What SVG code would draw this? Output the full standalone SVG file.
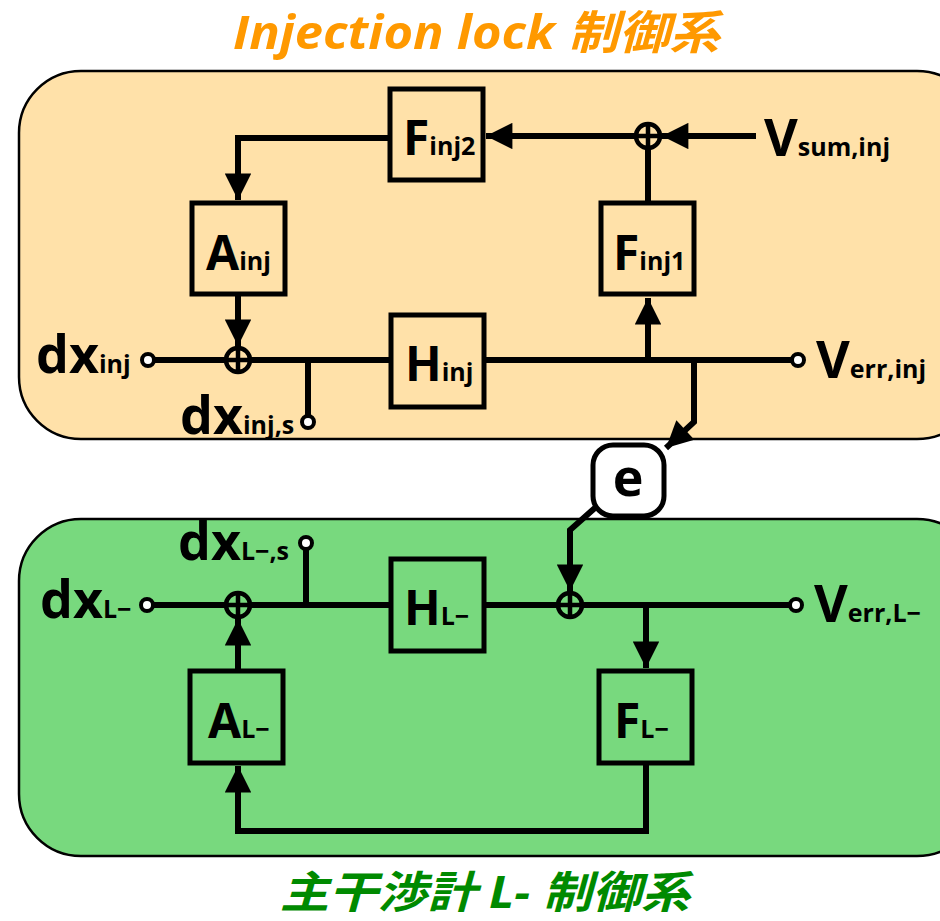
<svg xmlns="http://www.w3.org/2000/svg" width="940" height="921" viewBox="0 0 940 921">
<style>
.box{fill:none;stroke:#000;stroke-width:5}
.ln{fill:none;stroke:#000;stroke-width:6}
.sum{fill:none;stroke:#000;stroke-width:4.5}
.term{fill:#fff;stroke:#000;stroke-width:4}
.lbl{font-family:"Open Sans","DejaVu Sans",sans-serif;font-weight:bold;fill:#000}
.big{font-size:52px}
.bl{font-size:48px}
.sub{font-size:25px}
.title{font-family:"Open Sans","Noto Sans CJK JP",sans-serif;font-weight:bold;font-style:italic}
</style>
<defs>
<marker id="ah" viewBox="0 0 10 10" refX="10" refY="5" markerWidth="4.6" markerHeight="4.4" orient="auto" markerUnits="strokeWidth">
<path d="M0,0 L10,5 L0,10 Z" fill="#000"/>
</marker>
</defs>
<rect x="0" y="0" width="940" height="921" fill="#fff"/>
<text class="title" x="233" y="49" font-size="46" textLength="487" lengthAdjust="spacingAndGlyphs" fill="#ff9900">Injection lock 制御系</text>
<rect x="19" y="71" width="960" height="368" rx="62" ry="62" fill="#ffe1a9" stroke="#000" stroke-width="2.5"/>
<rect x="19" y="519" width="960" height="337" rx="62" ry="62" fill="#78d97e" stroke="#000" stroke-width="2.5"/>
<text class="title" x="280" y="908" font-size="44" textLength="410" lengthAdjust="spacingAndGlyphs" fill="#008a00">主干渉計 L- 制御系</text>

<g id="connectors">
<!-- top -->
<path class="ln" d="M154,360 H226"/>
<path class="ln" d="M250,360 H390"/>
<path class="ln" d="M484,360 H791"/>
<path class="ln" d="M308,360 V416"/>
<path class="ln" d="M238,296 V346" marker-end="url(#ah)"/>
<path class="ln" d="M648,360 V298" marker-end="url(#ah)"/>
<path class="ln" d="M648,202 V148"/>
<path class="ln" d="M756,136 H662" marker-end="url(#ah)"/>
<path class="ln" d="M636,136 H486" marker-end="url(#ah)"/>
<path class="ln" d="M390,138 H238 V200" marker-end="url(#ah)"/>
<path class="ln" d="M694,360 V422 L666,448" marker-end="url(#ah)"/>
<!-- bottom -->
<path class="ln" d="M596,507 L570,530 V591" marker-end="url(#ah)"/>
<path class="ln" d="M153,605 H226"/>
<path class="ln" d="M250,605 H390"/>
<path class="ln" d="M484,605 H558"/>
<path class="ln" d="M582,605 H789"/>
<path class="ln" d="M306,605 V549"/>
<path class="ln" d="M646,605 V668" marker-end="url(#ah)"/>
<path class="ln" d="M238,670 V619" marker-end="url(#ah)"/>
<path class="ln" d="M646,764 V831 H238 V766" marker-end="url(#ah)"/>
</g>

<g id="sum_top_left"><circle class="sum" cx="238" cy="360" r="12"/><path class="sum" d="M238,348 V372 M226,360 H250"/></g>
<g id="sum_top_right"><circle class="sum" cx="648" cy="136" r="12"/><path class="sum" d="M648,124 V148 M636,136 H660"/></g>
<g id="sum_bot_left"><circle class="sum" cx="238" cy="605" r="12"/><path class="sum" d="M238,593 V617 M226,605 H250"/></g>
<g id="sum_bot_right"><circle class="sum" cx="570" cy="605" r="12"/><path class="sum" d="M570,593 V617 M558,605 H582"/></g>

<g id="F_inj2"><rect class="box" x="390" y="89" width="93" height="91"/>
<text class="lbl" x="403" y="155"><tspan class="bl">F</tspan><tspan class="sub">inj2</tspan></text></g>
<g id="A_inj"><rect class="box" x="192" y="203" width="93" height="91"/>
<text class="lbl" x="206" y="270"><tspan class="bl">A</tspan><tspan class="sub">inj</tspan></text></g>
<g id="F_inj1"><rect class="box" x="601" y="203" width="93" height="91"/>
<text class="lbl" x="613" y="270"><tspan class="bl">F</tspan><tspan class="sub">inj1</tspan></text></g>
<g id="H_inj"><rect class="box" x="391" y="315" width="93" height="92"/>
<text class="lbl" x="405" y="381"><tspan class="bl">H</tspan><tspan class="sub">inj</tspan></text></g>

<g id="H_L"><rect class="box" x="391" y="559" width="93" height="92"/>
<text class="lbl" x="404" y="625"><tspan class="bl">H</tspan><tspan class="sub">L−</tspan></text></g>
<g id="A_L"><rect class="box" x="190" y="671" width="93" height="92"/>
<text class="lbl" x="208" y="738"><tspan class="bl">A</tspan><tspan class="sub">L−</tspan></text></g>
<g id="F_L"><rect class="box" x="599" y="671" width="93" height="92"/>
<text class="lbl" x="614" y="738"><tspan class="bl">F</tspan><tspan class="sub">L−</tspan></text></g>

<g id="e"><rect x="593" y="445" width="71" height="71" rx="20" ry="20" fill="#fff" stroke="#000" stroke-width="5"/>
<text class="lbl" x="628" y="496" font-size="52" text-anchor="middle">e</text></g>

<g id="dx_inj"><circle class="term" cx="148" cy="360" r="6"/>
<text class="lbl" x="36" y="373"><tspan class="big">dx</tspan><tspan class="sub">inj</tspan></text></g>
<g id="dx_inj_s"><circle class="term" cx="308" cy="422" r="6"/>
<text class="lbl" x="180" y="434"><tspan class="big">dx</tspan><tspan class="sub">inj,s</tspan></text></g>
<g id="V_err_inj"><circle class="term" cx="798" cy="360" r="6"/>
<text class="lbl" x="816" y="378"><tspan class="big">V</tspan><tspan class="sub">err,inj</tspan></text></g>
<g id="V_sum_inj">
<text class="lbl" x="764" y="156"><tspan class="big">V</tspan><tspan class="sub">sum,inj</tspan></text></g>

<g id="dx_L"><circle class="term" cx="147" cy="605" r="6"/>
<text class="lbl" x="40" y="618"><tspan class="big">dx</tspan><tspan class="sub">L−</tspan></text></g>
<g id="dx_L_s"><circle class="term" cx="306" cy="543" r="6"/>
<text class="lbl" x="178" y="560"><tspan class="big">dx</tspan><tspan class="sub">L−,s</tspan></text></g>
<g id="V_err_L"><circle class="term" cx="796" cy="605" r="6"/>
<text class="lbl" x="814" y="622"><tspan class="big">V</tspan><tspan class="sub">err,L−</tspan></text></g>
</svg>
